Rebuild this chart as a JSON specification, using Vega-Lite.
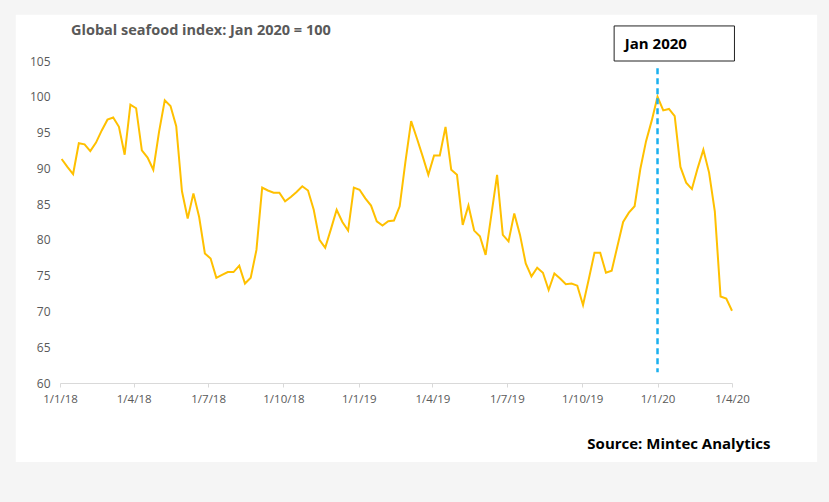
{
  "$schema": "https://vega.github.io/schema/vega-lite/v6.json",
  "width": 672,
  "height": 322,
  "autosize": "none",
  "padding": {"left": 60, "top": 61, "right": 97, "bottom": 119},
  "background": "#f5f5f5",
  "config": {
    "view": {"stroke": null},
    "font": "Open Sans",
    "axisX": {
      "grid": false,
      "domainColor": "#d9d9d9",
      "tickColor": "#d9d9d9",
      "tickSize": 4,
      "labelPadding": 6,
      "labelColor": "#595959",
      "labelFont": "Open Sans",
      "labelFontSize": 11.5,
      "labelFlush": false,
      "labelOverlap": false,
      "titleFont": "Open Sans",
      "titleFontSize": 15,
      "titleFontWeight": "bold",
      "titleColor": "#000000"
    },
    "axisY": {
      "domain": false,
      "ticks": false,
      "grid": true,
      "gridColor": "#d9d9d9",
      "labelPadding": 10,
      "labelColor": "#595959",
      "labelFont": "Open Sans",
      "labelFontSize": 12,
      "labelOverlap": false
    }
  },
  "title": {
    "text": "Global seafood index: Jan 2020 = 100",
    "anchor": "start",
    "frame": "group",
    "dx": 11,
    "offset": -24,
    "font": "Open Sans",
    "fontSize": 14.5,
    "fontWeight": "bold",
    "color": "#595959",
    "zindex": 1
  },
  "resolve": {"axis": {"x": "independent", "y": "independent"}, "scale": {"x": "shared", "y": "shared"}},
  "data": {
    "values": [
      {"date": "2018-01-03", "index": 91.3},
      {"date": "2018-01-10", "index": 90.2},
      {"date": "2018-01-17", "index": 89.2},
      {"date": "2018-01-24", "index": 93.5},
      {"date": "2018-01-31", "index": 93.35},
      {"date": "2018-02-07", "index": 92.4},
      {"date": "2018-02-14", "index": 93.6},
      {"date": "2018-02-21", "index": 95.3},
      {"date": "2018-02-28", "index": 96.8},
      {"date": "2018-03-07", "index": 97.1},
      {"date": "2018-03-14", "index": 95.8},
      {"date": "2018-03-21", "index": 91.9},
      {"date": "2018-03-28", "index": 98.9},
      {"date": "2018-04-04", "index": 98.4},
      {"date": "2018-04-11", "index": 92.5},
      {"date": "2018-04-18", "index": 91.5},
      {"date": "2018-04-25", "index": 89.8},
      {"date": "2018-05-02", "index": 95.1},
      {"date": "2018-05-09", "index": 99.5},
      {"date": "2018-05-16", "index": 98.7},
      {"date": "2018-05-23", "index": 95.9},
      {"date": "2018-05-30", "index": 86.8},
      {"date": "2018-06-06", "index": 83.0},
      {"date": "2018-06-13", "index": 86.5},
      {"date": "2018-06-20", "index": 83.2},
      {"date": "2018-06-27", "index": 78.1},
      {"date": "2018-07-04", "index": 77.4},
      {"date": "2018-07-11", "index": 74.7},
      {"date": "2018-07-18", "index": 75.1},
      {"date": "2018-07-25", "index": 75.5},
      {"date": "2018-08-01", "index": 75.5},
      {"date": "2018-08-08", "index": 76.4},
      {"date": "2018-08-15", "index": 73.9},
      {"date": "2018-08-22", "index": 74.7},
      {"date": "2018-08-29", "index": 78.6},
      {"date": "2018-09-05", "index": 87.3},
      {"date": "2018-09-12", "index": 86.9},
      {"date": "2018-09-19", "index": 86.6},
      {"date": "2018-09-26", "index": 86.6},
      {"date": "2018-10-03", "index": 85.4},
      {"date": "2018-10-10", "index": 86.0},
      {"date": "2018-10-17", "index": 86.7},
      {"date": "2018-10-24", "index": 87.5},
      {"date": "2018-10-31", "index": 86.9},
      {"date": "2018-11-07", "index": 84.2},
      {"date": "2018-11-14", "index": 80.0},
      {"date": "2018-11-21", "index": 78.9},
      {"date": "2018-11-28", "index": 81.5},
      {"date": "2018-12-05", "index": 84.2},
      {"date": "2018-12-12", "index": 82.5},
      {"date": "2018-12-19", "index": 81.3},
      {"date": "2018-12-26", "index": 87.3},
      {"date": "2019-01-02", "index": 87.0},
      {"date": "2019-01-09", "index": 85.8},
      {"date": "2019-01-16", "index": 84.8},
      {"date": "2019-01-23", "index": 82.6},
      {"date": "2019-01-30", "index": 82.0},
      {"date": "2019-02-06", "index": 82.6},
      {"date": "2019-02-13", "index": 82.7},
      {"date": "2019-02-20", "index": 84.7},
      {"date": "2019-02-27", "index": 90.9},
      {"date": "2019-03-06", "index": 96.6},
      {"date": "2019-03-13", "index": 94.2},
      {"date": "2019-03-20", "index": 91.7},
      {"date": "2019-03-27", "index": 89.1},
      {"date": "2019-04-03", "index": 91.8},
      {"date": "2019-04-10", "index": 91.8},
      {"date": "2019-04-17", "index": 95.8},
      {"date": "2019-04-24", "index": 89.8},
      {"date": "2019-05-01", "index": 89.1},
      {"date": "2019-05-08", "index": 82.1},
      {"date": "2019-05-15", "index": 84.8},
      {"date": "2019-05-22", "index": 81.3},
      {"date": "2019-05-29", "index": 80.5},
      {"date": "2019-06-05", "index": 77.9},
      {"date": "2019-06-12", "index": 83.5},
      {"date": "2019-06-19", "index": 89.1},
      {"date": "2019-06-26", "index": 80.7},
      {"date": "2019-07-03", "index": 79.8},
      {"date": "2019-07-10", "index": 83.7},
      {"date": "2019-07-17", "index": 80.7},
      {"date": "2019-07-24", "index": 76.7},
      {"date": "2019-07-31", "index": 74.9},
      {"date": "2019-08-07", "index": 76.1},
      {"date": "2019-08-14", "index": 75.4},
      {"date": "2019-08-21", "index": 73.0},
      {"date": "2019-08-28", "index": 75.3},
      {"date": "2019-09-04", "index": 74.6},
      {"date": "2019-09-11", "index": 73.8},
      {"date": "2019-09-18", "index": 73.9},
      {"date": "2019-09-25", "index": 73.6},
      {"date": "2019-10-02", "index": 70.9},
      {"date": "2019-10-09", "index": 74.5},
      {"date": "2019-10-16", "index": 78.2},
      {"date": "2019-10-23", "index": 78.2},
      {"date": "2019-10-30", "index": 75.4},
      {"date": "2019-11-06", "index": 75.7},
      {"date": "2019-11-13", "index": 79.1},
      {"date": "2019-11-20", "index": 82.5},
      {"date": "2019-11-27", "index": 83.8},
      {"date": "2019-12-04", "index": 84.7},
      {"date": "2019-12-11", "index": 89.9},
      {"date": "2019-12-18", "index": 93.8},
      {"date": "2019-12-25", "index": 96.7},
      {"date": "2020-01-01", "index": 100.0},
      {"date": "2020-01-08", "index": 98.1},
      {"date": "2020-01-15", "index": 98.3},
      {"date": "2020-01-22", "index": 97.3},
      {"date": "2020-01-29", "index": 90.2},
      {"date": "2020-02-05", "index": 88.0},
      {"date": "2020-02-12", "index": 87.1},
      {"date": "2020-02-19", "index": 90.0},
      {"date": "2020-02-26", "index": 92.6},
      {"date": "2020-03-04", "index": 89.4},
      {"date": "2020-03-11", "index": 84.0},
      {"date": "2020-03-18", "index": 72.1},
      {"date": "2020-03-25", "index": 71.8},
      {"date": "2020-04-01", "index": 70.1}
    ]
  },
  "layer": [
    {
      "data": {"values": [{}]},
      "mark": {"type": "rect", "fill": "#ffffff", "stroke": null},
      "encoding": {
        "x": {
          "datum": {"year": 2017, "month": 11, "date": 8, "utc": true},
          "type": "temporal",
          "scale": {
            "type": "utc",
            "domain": [
              {"year": 2018, "month": 1, "date": 1, "utc": true},
              {"year": 2020, "month": 4, "date": 1, "utc": true}
            ]
          },
          "axis": null
        },
        "x2": {"datum": {"year": 2020, "month": 7, "date": 14, "utc": true}},
        "y": {
          "datum": 48.95,
          "type": "quantitative",
          "scale": {"domain": [60, 105], "nice": false, "zero": false},
          "axis": null
        },
        "y2": {"datum": 111.47}
      }
    },
    {
      "mark": {"type": "line", "color": "#ffc000", "strokeWidth": 2},
      "encoding": {
        "x": {
          "field": "date",
          "type": "temporal",
          "axis": {
            "zindex": 1,
            "values": [
              {"year": 2018, "month": 1, "date": 1, "utc": true},
              {"year": 2018, "month": 4, "date": 1, "utc": true},
              {"year": 2018, "month": 7, "date": 1, "utc": true},
              {"year": 2018, "month": 10, "date": 1, "utc": true},
              {"year": 2019, "month": 1, "date": 1, "utc": true},
              {"year": 2019, "month": 4, "date": 1, "utc": true},
              {"year": 2019, "month": 7, "date": 1, "utc": true},
              {"year": 2019, "month": 10, "date": 1, "utc": true},
              {"year": 2020, "month": 1, "date": 1, "utc": true},
              {"year": 2020, "month": 4, "date": 1, "utc": true}
            ],
            "labelExpr": "utcFormat(datum.value, '%-d/%-m/%y')",
            "title": "Source: Mintec Analytics",
            "titleX": 710,
            "titleY": 65,
            "titleAlign": "right",
            "titleBaseline": "alphabetic"
          }
        },
        "y": {
          "field": "index",
          "type": "quantitative",
          "axis": {"zindex": 1, "title": null, "values": [60, 65, 70, 75, 80, 85, 90, 95, 100, 105]}
        }
      }
    },
    {
      "data": {"values": [{}]},
      "mark": {"type": "rule", "color": "#1ab0ef", "strokeWidth": 2.5, "strokeDash": [6, 4]},
      "encoding": {
        "x": {"datum": {"year": 2020, "month": 1, "date": 1, "utc": true}, "type": "temporal", "axis": null},
        "y": {"datum": 104, "type": "quantitative", "axis": null},
        "y2": {"datum": 61.5}
      }
    },
    {
      "data": {"values": [{}]},
      "mark": {"type": "rect", "fill": "#ffffff", "stroke": "#222222", "strokeWidth": 1},
      "encoding": {
        "x": {"datum": {"year": 2019, "month": 11, "date": 9, "utc": true}, "type": "temporal", "axis": null},
        "x2": {"datum": {"year": 2020, "month": 4, "date": 4, "utc": true}},
        "y": {"datum": 105, "type": "quantitative", "axis": null},
        "y2": {"datum": 109.9}
      }
    },
    {
      "data": {"values": [{"label": "Jan 2020"}]},
      "mark": {"type": "text", "align": "left", "baseline": "middle", "font": "Open Sans", "fontSize": 15, "fontWeight": "bold", "color": "#000000"},
      "encoding": {
        "x": {"datum": {"year": 2019, "month": 11, "date": 22, "utc": true}, "type": "temporal", "axis": null},
        "y": {"datum": 107.4, "type": "quantitative", "axis": null},
        "text": {"field": "label"}
      }
    }
  ]
}
